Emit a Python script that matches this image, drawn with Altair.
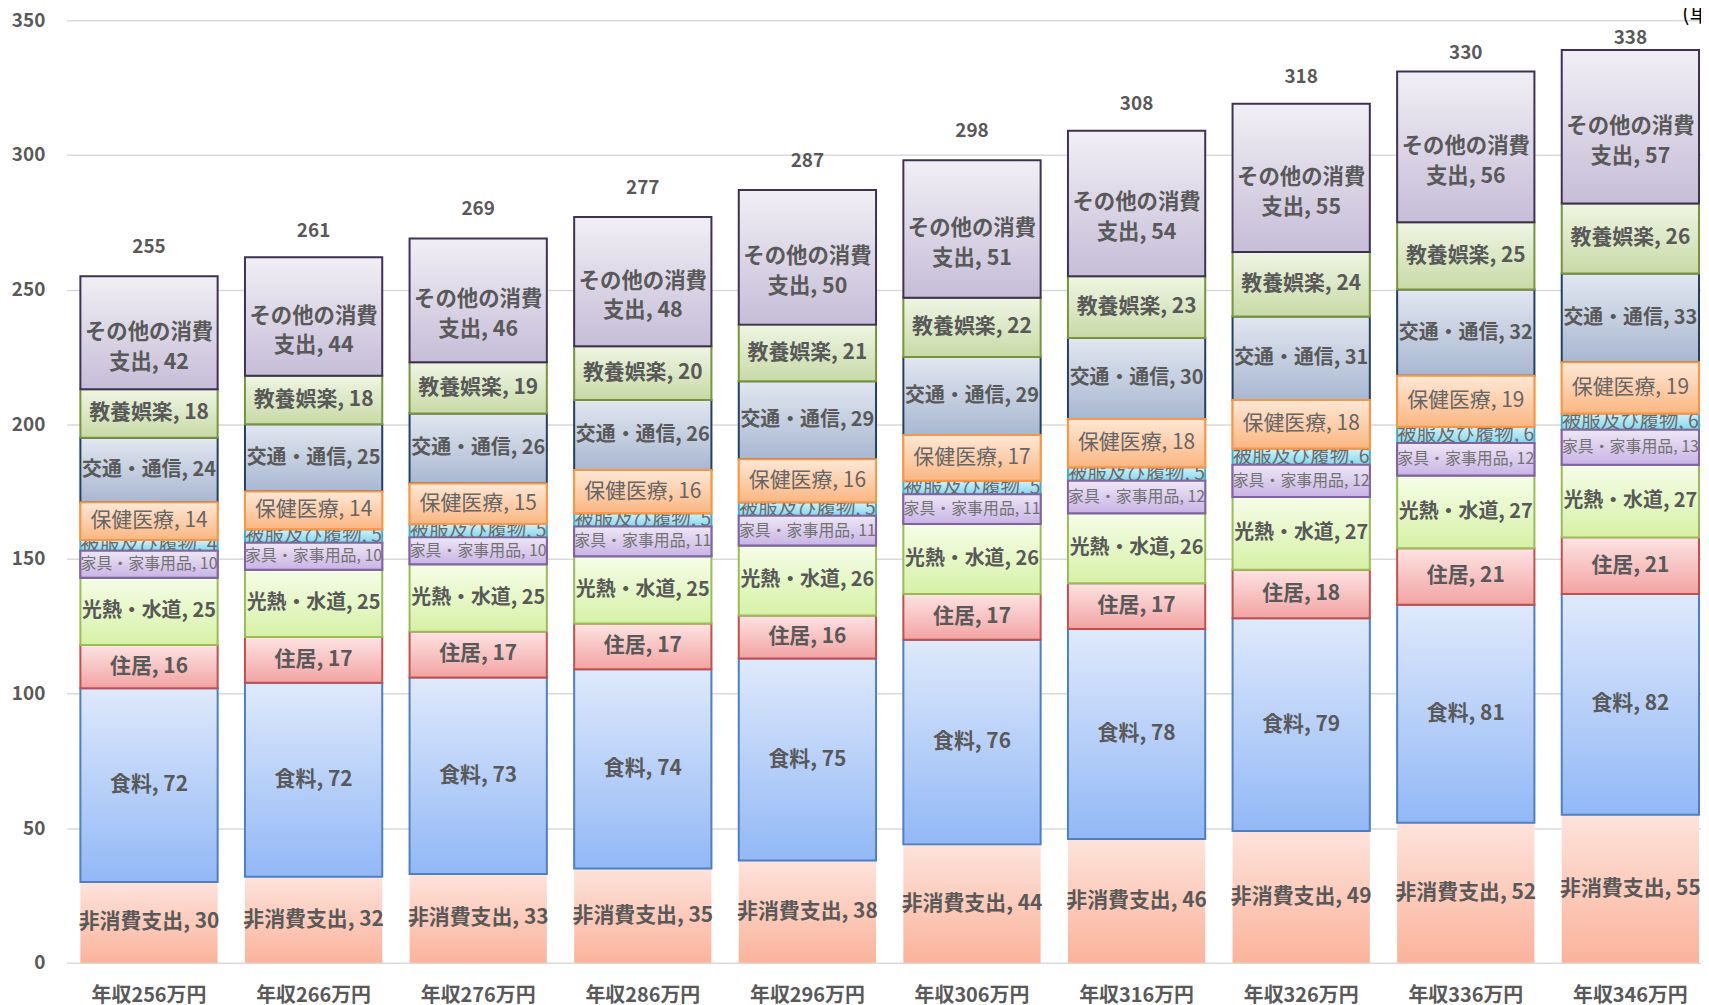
import altair as alt
import pandas as pd

# ---- data ----
incomes = ["年収256万円", "年収266万円", "年収276万円", "年収286万円", "年収296万円",
           "年収306万円", "年収316万円", "年収326万円", "年収336万円", "年収346万円"]
items = ["非消費支出", "食料", "住居", "光熱・水道", "家具・家事用品",
         "被服及び履物", "保健医療", "交通・通信", "教養娯楽", "その他の消費支出"]

non_consumption = [30, 32, 33, 35, 38, 44, 46, 49, 52, 55]
food = [72, 72, 73, 74, 75, 76, 78, 79, 81, 82]
housing = [16, 17, 17, 17, 16, 17, 17, 18, 21, 21]
utilities = [25, 25, 25, 25, 26, 26, 26, 27, 27, 27]
furniture = [10, 10, 10, 11, 11, 11, 12, 12, 12, 13]
clothing = [4, 5, 5, 5, 5, 5, 5, 6, 6, 6]
medical = [14, 14, 15, 16, 16, 17, 18, 18, 19, 19]
transport = [24, 25, 26, 26, 29, 29, 30, 31, 32, 33]
recreation = [18, 18, 19, 20, 21, 22, 23, 24, 25, 26]
other = [42, 44, 46, 48, 50, 51, 54, 55, 56, 57]
totals = [255, 261, 269, 277, 287, 298, 308, 318, 330, 338]

series = [non_consumption, food, housing, utilities, furniture,
          clothing, medical, transport, recreation, other]

display_name = {"その他の消費支出": "その他の消費\n支出"}

rows = []
for k, (name, vals) in enumerate(zip(items, series)):
    for inc, v in zip(incomes, vals):
        rows.append({"income": inc, "item": name, "order": k, "value": v,
                     "label": f"{display_name.get(name, name)}, {v}"})
df = pd.DataFrame(rows)
tot_df = pd.DataFrame({"income": incomes, "total": totals})

# ---- styles ----
FONT = "Noto Sans CJK JP"
styles = {
    "非消費支出": ("#fde3dc", "#fbb39b", None),
    "食料": ("#dfe9fb", "#92b8f6", "#4e7fc0"),
    "住居": ("#fde3e3", "#f3a3a3", "#c0504d"),
    "光熱・水道": ("#f6fde8", "#d6f1a6", "#9bbb59"),
    "家具・家事用品": ("#eee7f6", "#c9b3e5", "#8064a2"),
    "被服及び履物": ("#d3f2fa", "#84d7ec", "#4bacc6"),
    "保健医療": ("#fee8d6", "#fbb682", "#f79646"),
    "交通・通信": ("#e2e7f0", "#a8b7d1", "#243f60"),
    "教養娯楽": ("#eff5e4", "#c8daa6", "#77933c"),
    "その他の消費支出": ("#f1eff5", "#c6bdd8", "#3f3151"),
}
text_styles = {
    "非消費支出": (21, "bold", "#595959"),
    "食料": (21, "bold", "#595959"),
    "住居": (21, "bold", "#595959"),
    "光熱・水道": (20, "bold", "#595959"),
    "家具・家事用品": (16, "normal", "#727272"),
    "被服及び履物": (19.5, "normal", "#6a6a6a"),
    "保健医療": (21, "normal", "#666666"),
    "交通・通信": (20, "bold", "#595959"),
    "教養娯楽": (21, "bold", "#595959"),
    "その他の消費支出": (21.5, "bold", "#595959"),
}

x_enc = alt.X("income:N", sort=incomes,
              scale=alt.Scale(paddingInner=0.166, paddingOuter=0.0475, align=0.873),
              axis=alt.Axis(title=None, labelAngle=0, domain=False, ticks=False,
                            labelFont=FONT, labelFontSize=20, labelFontWeight="bold",
                            labelColor="#595959", labelPadding=23))
y_scale = alt.Scale(domain=[0, 350], nice=False)
y_axis = alt.Axis(title=None, values=list(range(0, 351, 50)), domain=False, ticks=False,
                  labelFont=FONT, labelFontSize=19, labelFontWeight="bold",
                  labelColor="#595959", labelPadding=22,
                  gridColor="#d9d9d9", gridWidth=1.5)

base = alt.Chart(df).transform_stack(
    stack="value", groupby=["income"], as_=["y0", "y1"],
    sort=[alt.SortField("order", "ascending")]
).transform_calculate(mid="(datum.y0 + datum.y1) / 2")


def bar_layer(name):
    top, bottom, border = styles[name]
    grad = alt.Gradient(gradient="linear",
                        stops=[alt.GradientStop(color=top, offset=0),
                               alt.GradientStop(color=bottom, offset=1)],
                        x1=0, x2=0, y1=0, y2=1)
    kw = dict(fill=grad)
    if border:
        kw.update(stroke=border, strokeWidth=2)
    else:
        kw.update(strokeWidth=0)
    return base.transform_filter(alt.datum.item == name).mark_bar(**kw).encode(
        x=x_enc,
        y=alt.Y("y0:Q", scale=y_scale, axis=y_axis),
        y2="y1:Q",
    )


def text_layer(name):
    fs, fw, col = text_styles[name]
    return base.transform_filter(alt.datum.item == name).mark_text(
        font=FONT, fontSize=fs, fontWeight=fw, color=col,
        lineBreak="\n", lineHeight=30, baseline="middle", align="center"
    ).encode(
        x=x_enc,
        y=alt.Y("mid:Q", scale=y_scale, axis=y_axis),
        text="label:N",
    )


layers = [bar_layer(n) for n in items]
layers.append(text_layer("被服及び履物"))
layers.append(bar_layer("保健医療"))
layers.append(bar_layer("家具・家事用品"))
layers += [text_layer(n) for n in items if n != "被服及び履物"]

# total labels sit ~11 units above the bar, pushed down near the top of the plot
total_layer = alt.Chart(tot_df).transform_calculate(
    ly="datum.total + 10.8 - max(0, datum.total - 320) * 0.3"
).mark_text(
    font=FONT, fontSize=19, fontWeight="bold", color="#595959",
    baseline="middle"
).encode(
    x=x_enc,
    y=alt.Y("ly:Q", scale=y_scale, axis=y_axis),
    text="total:Q",
)
layers.append(total_layer)

unit_layer = alt.Chart(tot_df.head(1)).mark_text(
    font=FONT, fontSize=22, color="#000000", align="left", baseline="middle"
).encode(x=alt.value(1623), y=alt.value(-6), text=alt.value("(単位：万円)"))
layers.append(unit_layer)

chart = alt.layer(*layers).properties(
    width=1642, height=947,
    autosize=alt.AutoSizeParams(type="none"),
    padding={"left": 59, "top": 10, "right": 0, "bottom": 50},
    background="white",
).configure_view(stroke=None)

chart.save("out.html", embed_options={"renderer": "svg", "actions": False})
